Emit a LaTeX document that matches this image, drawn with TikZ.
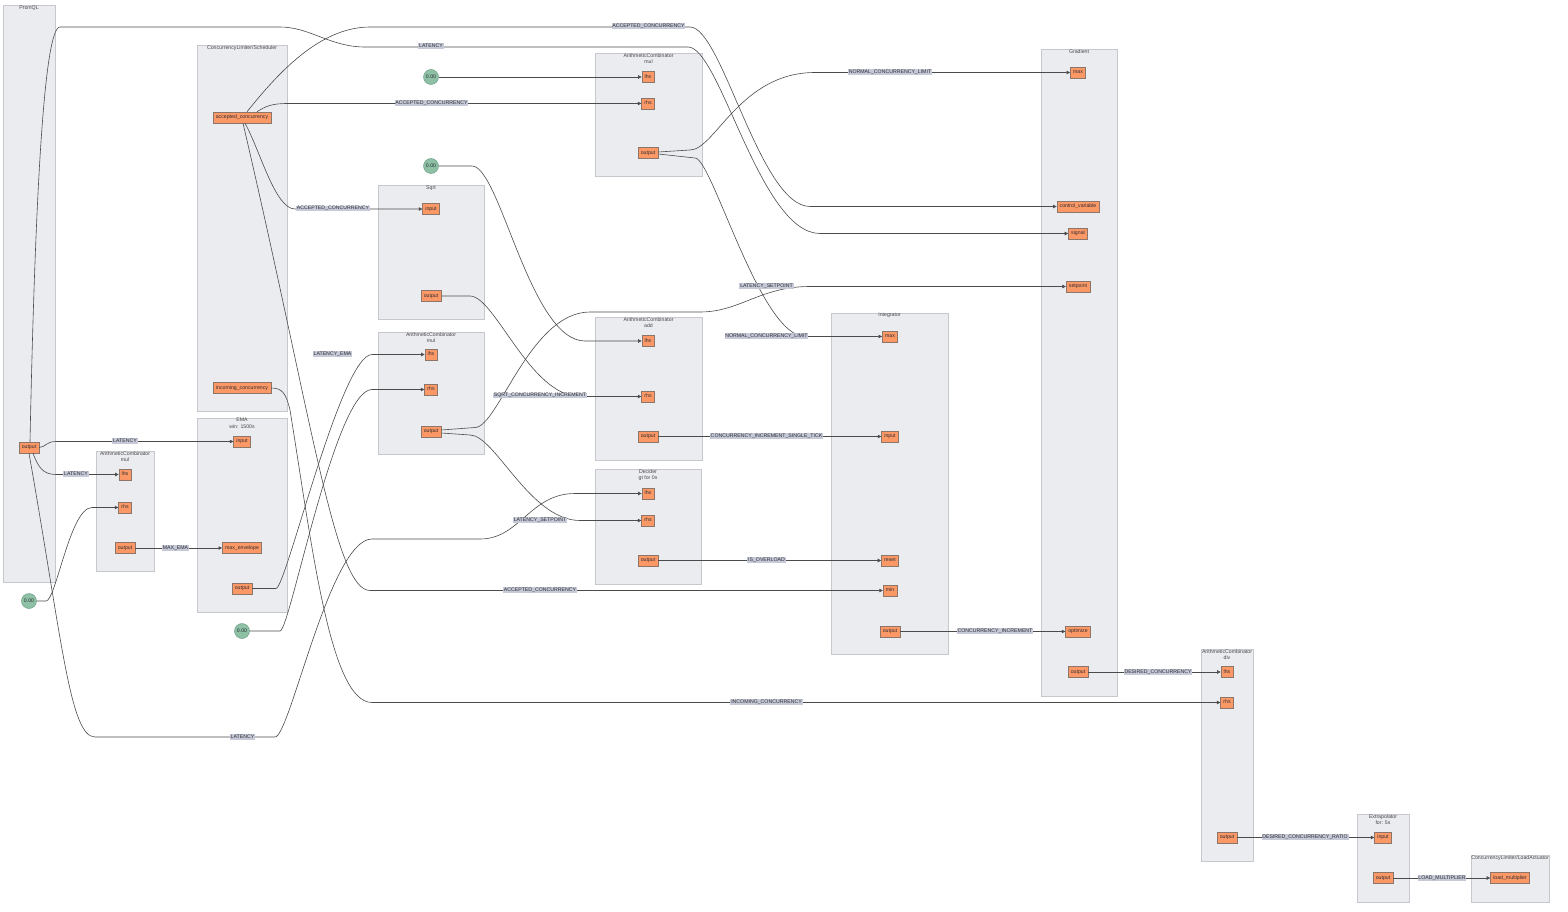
\documentclass[tikz,border=0pt]{standalone}
\usepackage{fontspec}
\setmainfont{Liberation Sans}
\usetikzlibrary{arrows.meta,fit}

\definecolor{clusterfill}{RGB}{235,236,240}
\definecolor{clusterline}{RGB}{198,200,206}
\definecolor{portfill}{RGB}{252,152,102}
\definecolor{portline}{RGB}{140,118,105}
\definecolor{constfill}{RGB}{141,192,165}
\definecolor{constline}{RGB}{112,160,136}
\definecolor{labelfill}{RGB}{198,202,216}
\definecolor{wirecolor}{RGB}{75,75,75}
\definecolor{inktext}{RGB}{45,45,50}

\tikzset{
  every node/.style={font=\fontsize{5.2}{6.2}\selectfont, text=inktext},
  cluster/.style={draw=clusterline, fill=clusterfill, line width=0.8pt, inner sep=0pt},
  ctitle/.style={anchor=north, inner sep=0.6pt, align=center, text=black!72},
  port/.style={draw=portline, fill=portfill, line width=0.5pt, inner xsep=2.8pt, inner ysep=0pt,
               minimum height=11pt, text height=3.8pt, text depth=1.1pt},
  const/.style={circle, draw=constline, fill=constfill, line width=0.5pt, minimum size=15pt, inner sep=0pt},
  elabel/.style={fill=labelfill, inner xsep=0.8pt, inner ysep=0.5pt, text height=3.8pt, text depth=1pt},
  conn/.style={draw=wirecolor, line width=0.6pt, -{Triangle[length=3.5pt,width=3.5pt]}},
}

\begin{document}
\begin{tikzpicture}[x=1pt,y=-1pt]
\useasboundingbox (0,0) rectangle (1568,912);

% ---------- component groups ----------
\node[cluster, fit={(3,5) (55,582)}] (cProm) {};
\node[ctitle] (tProm) at (cProm.north) {PromQL};
\node[cluster, fit={(197,45) (287,411)}] (cSched) {};
\node[ctitle] (tSched) at (cSched.north) {ConcurrencyLimiter/Scheduler};
\node[cluster, fit={(197,418) (287,612)}] (cEma) {};
\node[ctitle] (tEma) at (cEma.north) {EMA\\win: 1500s};
\node[cluster, fit={(96,451) (154,571)}] (cMulL) {};
\node[ctitle] (tMulL) at (cMulL.north) {ArithmeticCombinator\\mul};
\node[cluster, fit={(595,53) (702,176)}] (cMulT) {};
\node[ctitle] (tMulT) at (cMulT.north) {ArithmeticCombinator\\mul};
\node[cluster, fit={(378,185) (484,319)}] (cSqrt) {};
\node[ctitle] (tSqrt) at (cSqrt.north) {Sqrt};
\node[cluster, fit={(378,332) (484,454)}] (cMulM) {};
\node[ctitle] (tMulM) at (cMulM.north) {ArithmeticCombinator\\mul};
\node[cluster, fit={(595,317) (702,460)}] (cAdd) {};
\node[ctitle] (tAdd) at (cAdd.north) {ArithmeticCombinator\\add};
\node[cluster, fit={(595,469) (701,584)}] (cDec) {};
\node[ctitle] (tDec) at (cDec.north) {Decider\\gt for 0s};
\node[cluster, fit={(831,313) (948,654)}] (cInt) {};
\node[ctitle] (tInt) at (cInt.north) {Integrator};
\node[cluster, fit={(1041,49) (1117,696)}] (cGrad) {};
\node[ctitle] (tGrad) at (cGrad.north) {Gradient};
\node[cluster, fit={(1201,649) (1253,861)}] (cDiv) {};
\node[ctitle] (tDiv) at (cDiv.north) {ArithmeticCombinator\\div};
\node[cluster, fit={(1357,814) (1409,902)}] (cExt) {};
\node[ctitle] (tExt) at (cExt.north) {Extrapolator\\for: 5s};
\node[cluster, fit={(1471,855) (1549,902)}] (cAct) {};
\node[ctitle] (tAct) at (cAct.north) {ConcurrencyLimiter/LoadActuator};

% ---------- ports ----------
\node[port] (promOut) at (29,447.5) {output};
\node[port] (schAcc) at (242,117.5) {accepted\_concurrency};
\node[port] (schInc) at (242,388) {incoming\_concurrency};
\node[port] (emaIn) at (242,441.5) {input};
\node[port] (emaEnv) at (242,548) {max\_envelope};
\node[port] (emaOut) at (242,588.5) {output};
\node[port] (mlLhs) at (125,474.5) {lhs};
\node[port] (mlRhs) at (125,507.5) {rhs};
\node[port] (mlOut) at (125,548) {output};
\node[port] (mtLhs) at (648,77) {lhs};
\node[port] (mtRhs) at (648,103.5) {rhs};
\node[port] (mtOut) at (648,153) {output};
\node[port] (sqIn) at (431,209) {input};
\node[port] (sqOut) at (431,296) {output};
\node[port] (mmLhs) at (431,354.5) {lhs};
\node[port] (mmRhs) at (431,389.5) {rhs};
\node[port] (mmOut) at (431,431.5) {output};
\node[port] (adLhs) at (648,341) {lhs};
\node[port] (adRhs) at (648,396.5) {rhs};
\node[port] (adOut) at (648,436.5) {output};
\node[port] (dcLhs) at (648,493.5) {lhs};
\node[port] (dcRhs) at (648,520.5) {rhs};
\node[port] (dcOut) at (648,560.5) {output};
\node[port] (inMax) at (890,336.5) {max};
\node[port] (inIn) at (890,436.5) {input};
\node[port] (inReset) at (890,560.5) {reset};
\node[port] (inMin) at (890,590.5) {min};
\node[port] (inOut) at (890,631.5) {output};
\node[port] (grMax) at (1078,72.5) {max};
\node[port] (grCv) at (1078,206.5) {control\_variable};
\node[port] (grSig) at (1078,233.5) {signal};
\node[port] (grSet) at (1078,286.5) {setpoint};
\node[port] (grOpt) at (1078,631.5) {optimize};
\node[port] (grOut) at (1078,672) {output};
\node[port] (dvLhs) at (1227,672) {lhs};
\node[port] (dvRhs) at (1227,702.5) {rhs};
\node[port] (dvOut) at (1227,837.5) {output};
\node[port] (exIn) at (1383,837.5) {input};
\node[port] (exOut) at (1383,878) {output};
\node[port] (acLm) at (1510,878) {load\_multiplier};

% ---------- constants ----------
\node[const] (z1) at (29,601) {0.00};
\node[const] (z2) at (242,631) {0.00};
\node[const] (z3) at (431,77) {0.00};
\node[const] (z4) at (431,166) {0.00};

% ---------- wires ----------
\draw[conn] (promOut.east) .. controls (46,447) and (46,441.5) .. (56,441.5) -- (emaIn.west);
\draw[conn] ([xshift=4pt]promOut.south) .. controls (38,466) and (42,474.5) .. (56,474.5) -- (mlLhs.west);
\draw[conn] ([xshift=1pt]promOut.north) .. controls (35,200) and (44,27) .. (60,27) -- (280,27)
  .. controls (310,27) and (330,47) .. (365,47) -- (688,47)
  .. controls (720,47) and (760,233.5) .. (820,233.5) -- (grSig.west);
\draw[conn] (promOut.south) .. controls (62,640) and (70,737) .. (95,737) -- (275,737)
  .. controls (290,737) and (330,539) .. (372,539) -- (480,539)
  .. controls (520,539) and (530,493.5) .. (575,493.5) -- (dcLhs.west);
\draw[conn] (z1.east) -- (46,601) .. controls (56,601) and (70,507.5) .. (92,507.5) -- (mlRhs.west);
\draw[conn] (mlOut.east) -- (emaEnv.west);

\draw[conn] ([xshift=5pt]schAcc.north) .. controls (275,77) and (318,27) .. (370,27) -- (690,27)
  .. controls (722,27) and (760,206.5) .. (810,206.5) -- (grCv.west);
\draw[conn] ([xshift=15pt]schAcc.north) .. controls (266,106) and (272,103.5) .. (288,103.5) -- (mtRhs.west);
\draw[conn] ([xshift=3pt]schAcc.south) .. controls (260,150) and (275,209) .. (295,209) -- (sqIn.west);
\draw[conn] ([xshift=1pt]schAcc.south) .. controls (313,423) and (335,590.5) .. (370,590.5) -- (inMin.west);
\draw[conn] (schInc.east) .. controls (282,388) and (286,393) .. (290,410)
  .. controls (312,545) and (330,702.5) .. (372,702.5) -- (dvRhs.west);

\draw[conn] (emaOut.east) -- (276,588.5) .. controls (286,588.5) and (341,354.5) .. (372,354.5) -- (mmLhs.west);
\draw[conn] (z2.east) -- (280,631) .. controls (290,631) and (335,389.5) .. (372,389.5) -- (mmRhs.west);
\draw[conn] (z3.east) -- (mtLhs.west);
\draw[conn] (z4.east) -- (472,166) .. controls (500,166) and (530,341) .. (585,341) -- (adLhs.west);
\draw[conn] (sqOut.east) -- (470,296) .. controls (495,296) and (530,396.5) .. (580,396.5) -- (adRhs.west);

\draw[conn] ([yshift=1.5pt]mmOut.east) -- (475,427.5) .. controls (498,427.5) and (530,312) .. (590,312) -- (700,312)
  .. controls (740,312) and (760,286.5) .. (810,286.5) -- (grSet.west);
\draw[conn] ([yshift=-1.5pt]mmOut.east) -- (470,435) .. controls (495,435) and (530,520.5) .. (580,520.5) -- (dcRhs.west);

\draw[conn] ([yshift=1pt]mtOut.east) -- (690,150) .. controls (715,150) and (740,72.5) .. (815,72.5) -- (grMax.west);
\draw[conn] ([yshift=-1pt]mtOut.east) -- (695,158) .. controls (712,158) and (760,336.5) .. (805,336.5) -- (inMax.west);

\draw[conn] (adOut.east) -- (inIn.west);
\draw[conn] (dcOut.east) -- (inReset.west);
\draw[conn] (inOut.east) -- (grOpt.west);
\draw[conn] (grOut.east) -- (dvLhs.west);
\draw[conn] (dvOut.east) -- (exIn.west);
\draw[conn] (exOut.east) -- (acLm.west);

% ---------- wire labels ----------
\node[elabel] (l01) at (125,441) {LATENCY};
\node[elabel] (l02) at (76,474) {LATENCY};
\node[elabel] (l03) at (431,46) {LATENCY};
\node[elabel] (l04) at (242.5,737) {LATENCY};
\node[elabel] (l05) at (175.5,548) {MAX\_EMA};
\node[elabel] (l06) at (648.5,26) {ACCEPTED\_CONCURRENCY};
\node[elabel] (l07) at (431.5,103) {ACCEPTED\_CONCURRENCY};
\node[elabel] (l08) at (333,208.5) {ACCEPTED\_CONCURRENCY};
\node[elabel] (l09) at (540,590) {ACCEPTED\_CONCURRENCY};
\node[elabel] (l10) at (766.5,702) {INCOMING\_CONCURRENCY};
\node[elabel] (l11) at (332.5,354) {LATENCY\_EMA};
\node[elabel] (l12) at (540,395.5) {SQRT\_CONCURRENCY\_INCREMENT};
\node[elabel] (l13) at (766.5,286) {LATENCY\_SETPOINT};
\node[elabel] (l14) at (540,520) {LATENCY\_SETPOINT};
\node[elabel] (l15) at (890,72) {NORMAL\_CONCURRENCY\_LIMIT};
\node[elabel] (l16) at (766.5,336) {NORMAL\_CONCURRENCY\_LIMIT};
\node[elabel] (l17) at (766.5,436) {CONCURRENCY\_INCREMENT\_SINGLE\_TICK};
\node[elabel] (l18) at (766.5,560) {IS\_OVERLOAD};
\node[elabel] (l19) at (995,631) {CONCURRENCY\_INCREMENT};
\node[elabel] (l20) at (1158,672) {DESIRED\_CONCURRENCY};
\node[elabel] (l21) at (1305,837) {DESIRED\_CONCURRENCY\_RATIO};
\node[elabel] (l22) at (1442,878) {LOAD\_MULTIPLIER};
\end{tikzpicture}
\end{document}
